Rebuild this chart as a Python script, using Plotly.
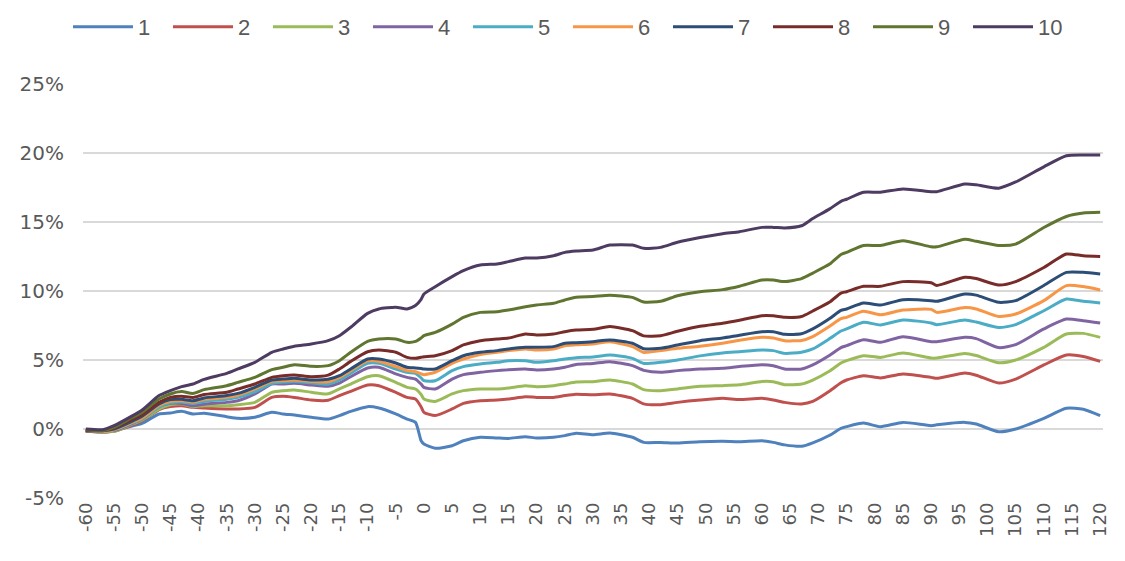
import plotly.graph_objects as go

days = [-60, -57, -55, -52, -50, -47, -45, -43, -41, -39, -35, -33, -30, -27, -25, -23, -20, -17, -15, -13,
        -10, -8, -5, -3, -1.5, -0.5, 0, 2, 5, 7, 10, 13, 15, 18, 20, 23, 25, 27, 30, 33, 37, 39, 42, 45,
        49, 53, 56, 60, 62, 64, 67, 69, 72, 74, 75, 78, 81, 85, 90, 91, 96, 98, 102, 105, 110, 114, 117, 120]

s1 = [-0.12, -0.24, -0.12, 0.2, 0.41, 1.09, 1.16, 1.28, 1.09, 1.14, 0.89, 0.77, 0.85, 1.21, 1.09, 1.01, 0.85, 0.72, 0.97, 1.28,
      1.62, 1.52, 1.09, 0.72, 0.48, -0.85, -1.09, -1.4, -1.21, -0.85, -0.6, -0.65, -0.68, -0.56, -0.65, -0.6, -0.48, -0.31, -0.41, -0.29,
      -0.6, -0.97, -0.97, -1.02, -0.92, -0.89, -0.92, -0.85, -0.97, -1.15, -1.25, -1.0, -0.45, 0.05, 0.17, 0.43, 0.17, 0.48, 0.24, 0.3,
      0.48, 0.36, -0.2, 0.0, 0.77, 1.5, 1.43, 0.97]
s2 = [-0.12, -0.2, -0.17, 0.25, 0.6, 1.4, 1.62, 1.69, 1.57, 1.52, 1.45, 1.45, 1.57, 2.29, 2.37, 2.29, 2.1, 2.08, 2.42, 2.73,
      3.19, 3.14, 2.66, 2.29, 2.17, 1.6, 1.21, 0.97, 1.45, 1.86, 2.05, 2.1, 2.17, 2.34, 2.29, 2.29, 2.42, 2.52, 2.48, 2.54,
      2.22, 1.82, 1.76, 1.93, 2.1, 2.22, 2.13, 2.22, 2.1, 1.93, 1.82, 2.0, 2.75, 3.35, 3.55, 3.86, 3.7, 3.99, 3.74, 3.67,
      4.06, 3.9, 3.33, 3.62, 4.64, 5.36, 5.25, 4.9]
s3 = [-0.12, -0.2, -0.17, 0.3, 0.65, 1.45, 1.76, 1.81, 1.62, 1.69, 1.69, 1.76, 1.93, 2.66, 2.78, 2.83, 2.66, 2.55, 2.9, 3.26,
      3.79, 3.86, 3.38, 3.02, 2.9, 2.5, 2.17, 2.0, 2.54, 2.78, 2.9, 2.9, 2.97, 3.14, 3.07, 3.14, 3.26, 3.4, 3.43, 3.55,
      3.26, 2.85, 2.78, 2.9, 3.09, 3.14, 3.2, 3.45, 3.43, 3.21, 3.26, 3.55, 4.2, 4.78, 4.95, 5.31, 5.19, 5.51, 5.14, 5.14,
      5.48, 5.33, 4.8, 5.0, 5.92, 6.88, 6.93, 6.64]
s4 = [-0.12, -0.18, -0.12, 0.35, 0.72, 1.62, 1.86, 1.85, 1.69, 1.8, 1.93, 2.05, 2.54, 3.26, 3.26, 3.31, 3.19, 3.1, 3.33, 3.79,
      4.42, 4.47, 3.99, 3.74, 3.62, 3.25, 3.02, 2.9, 3.62, 3.94, 4.11, 4.23, 4.3, 4.35, 4.28, 4.35, 4.47, 4.68, 4.75, 4.88,
      4.59, 4.25, 4.11, 4.23, 4.35, 4.4, 4.53, 4.66, 4.59, 4.35, 4.35, 4.65, 5.35, 5.9, 6.04, 6.47, 6.28, 6.69, 6.33, 6.33,
      6.64, 6.55, 5.9, 6.11, 7.25, 7.97, 7.85, 7.68]
s5 = [-0.15, -0.22, -0.07, 0.4, 0.75, 1.6, 1.9, 1.95, 1.85, 2.0, 2.15, 2.3, 2.7, 3.3, 3.4, 3.45, 3.35, 3.25, 3.55, 4.03,
      4.76, 4.76, 4.35, 4.11, 4.03, 3.7, 3.5, 3.5, 4.23, 4.52, 4.71, 4.83, 4.95, 4.95, 4.83, 4.95, 5.07, 5.17, 5.22, 5.36,
      5.12, 4.75, 4.83, 5.0, 5.3, 5.51, 5.6, 5.72, 5.68, 5.48, 5.56, 5.8, 6.55, 7.1, 7.25, 7.73, 7.54, 7.9, 7.68, 7.56,
      7.9, 7.75, 7.35, 7.56, 8.57, 9.42, 9.25, 9.13]
s6 = [-0.15, -0.2, -0.05, 0.45, 0.8, 1.7, 2.0, 2.05, 1.95, 2.15, 2.3, 2.45, 2.9, 3.45, 3.5, 3.55, 3.45, 3.42, 3.74, 4.23,
      4.95, 4.9, 4.52, 4.23, 4.15, 4.0, 3.94, 4.11, 4.76, 5.07, 5.39, 5.56, 5.68, 5.8, 5.72, 5.8, 6.04, 6.1, 6.16, 6.33,
      5.97, 5.55, 5.68, 5.85, 6.0, 6.21, 6.43, 6.64, 6.59, 6.4, 6.42, 6.7, 7.45, 8.0, 8.09, 8.53, 8.28, 8.62, 8.67, 8.45,
      8.8, 8.7, 8.15, 8.33, 9.3, 10.39, 10.32, 10.07]
s7 = [-0.12, -0.12, 0.0, 0.52, 0.92, 1.81, 2.13, 2.15, 2.05, 2.25, 2.42, 2.58, 3.02, 3.55, 3.62, 3.67, 3.55, 3.6, 3.86, 4.35,
      5.07, 5.07, 4.78, 4.47, 4.42, 4.38, 4.35, 4.35, 4.95, 5.31, 5.56, 5.68, 5.8, 5.92, 5.92, 5.97, 6.21, 6.25, 6.33, 6.45,
      6.21, 5.82, 5.85, 6.09, 6.4, 6.6, 6.8, 7.05, 7.05, 6.86, 6.9, 7.25, 8.0, 8.6, 8.7, 9.13, 8.98, 9.37, 9.3, 9.25,
      9.78, 9.7, 9.18, 9.3, 10.4, 11.35, 11.35, 11.23]
s8 = [-0.12, -0.1, 0.07, 0.65, 1.04, 1.93, 2.29, 2.37, 2.29, 2.5, 2.66, 2.9, 3.26, 3.74, 3.86, 3.91, 3.79, 3.9, 4.35, 4.9,
      5.6, 5.72, 5.56, 5.19, 5.12, 5.2, 5.24, 5.31, 5.68, 6.09, 6.4, 6.52, 6.59, 6.88, 6.81, 6.88, 7.05, 7.17, 7.22, 7.42,
      7.13, 6.75, 6.76, 7.08, 7.44, 7.66, 7.88, 8.21, 8.2, 8.09, 8.15, 8.55, 9.2, 9.85, 9.95, 10.34, 10.34, 10.68, 10.6, 10.4,
      11.0, 10.9, 10.43, 10.68, 11.7, 12.68, 12.55, 12.5]
s9 = [-0.05, -0.12, 0.12, 0.78, 1.21, 2.17, 2.54, 2.71, 2.58, 2.85, 3.14, 3.38, 3.74, 4.3, 4.47, 4.66, 4.54, 4.59, 4.95, 5.56,
      6.35, 6.52, 6.52, 6.28, 6.35, 6.6, 6.76, 7.0, 7.6, 8.09, 8.45, 8.5, 8.62, 8.86, 8.99, 9.11, 9.35, 9.55, 9.6, 9.7,
      9.54, 9.2, 9.25, 9.66, 9.95, 10.1, 10.35, 10.8, 10.8, 10.68, 10.9, 11.3, 11.95, 12.65, 12.8, 13.3, 13.3, 13.65, 13.2, 13.2,
      13.75, 13.6, 13.3, 13.4, 14.6, 15.4, 15.65, 15.7]
s10 = [0.0, -0.05, 0.24, 0.9, 1.38, 2.42, 2.78, 3.07, 3.26, 3.6, 4.03, 4.35, 4.83, 5.56, 5.8, 6.0, 6.16, 6.4, 6.76, 7.37,
       8.38, 8.7, 8.82, 8.7, 8.95, 9.4, 9.78, 10.31, 11.04, 11.47, 11.88, 11.96, 12.13, 12.39, 12.39, 12.56, 12.8, 12.9, 12.97, 13.33,
       13.33, 13.09, 13.16, 13.53, 13.87, 14.15, 14.3, 14.61, 14.61, 14.57, 14.73, 15.25, 15.95, 16.5, 16.65, 17.15, 17.15, 17.4, 17.2, 17.2,
       17.75, 17.7, 17.45, 17.9, 19.0, 19.8, 19.85, 19.85]

series_names = ["1", "2", "3", "4", "5", "6", "7", "8", "9", "10"]
series_values = [s1, s2, s3, s4, s5, s6, s7, s8, s9, s10]
colors = ["#4F81BD", "#C0504D", "#9BBB59", "#8064A2", "#4BACC6",
          "#F79646", "#2C4D75", "#772C2A", "#5F7530", "#4D3B62"]

y_ticks = [-5, 0, 5, 10, 15, 20, 25]
x_ticks = list(range(-60, 121, 5))

W, H = 1117, 553

fig = go.Figure()
for name, vals, col in zip(series_names, series_values, colors):
    fig.add_trace(go.Scatter(x=days, y=vals, name=name, mode="lines",
                             line=dict(color=col, width=3, shape="spline", smoothing=0.6)))

fig.update_layout(
    width=W, height=H,
    paper_bgcolor="white", plot_bgcolor="white",
    margin=dict(l=75, r=22, t=76, b=63),
    font=dict(family="Liberation Sans", color="#595959"),
    legend=dict(orientation="h", xref="container", yref="container",
                x=60 / W, y=1 - 19 / H, xanchor="left", yanchor="middle",
                font=dict(size=22, color="#595959"),
                itemwidth=60, entrywidth=25, entrywidthmode="pixels",
                bgcolor="rgba(0,0,0,0)"),
    xaxis=dict(range=[-60.5, 120.5], tickmode="array", tickvals=x_ticks,
               ticktext=[str(v) for v in x_ticks], tickangle=-90,
               showgrid=False, zeroline=False, showline=False, ticks="",
               tickfont=dict(size=18, color="#595959", family="DejaVu Sans"), automargin=False),
    yaxis=dict(range=[-5, 25], tickmode="array", tickvals=y_ticks,
               ticktext=[f"{v}%" for v in y_ticks],
               showgrid=True, gridcolor="#D9D9D9", gridwidth=2,
               zeroline=False, showline=False, ticks="", ticklabelstandoff=18,
               tickfont=dict(size=20, color="#595959", family="DejaVu Sans"), automargin=False),
)

fig.write_html("out.html")
